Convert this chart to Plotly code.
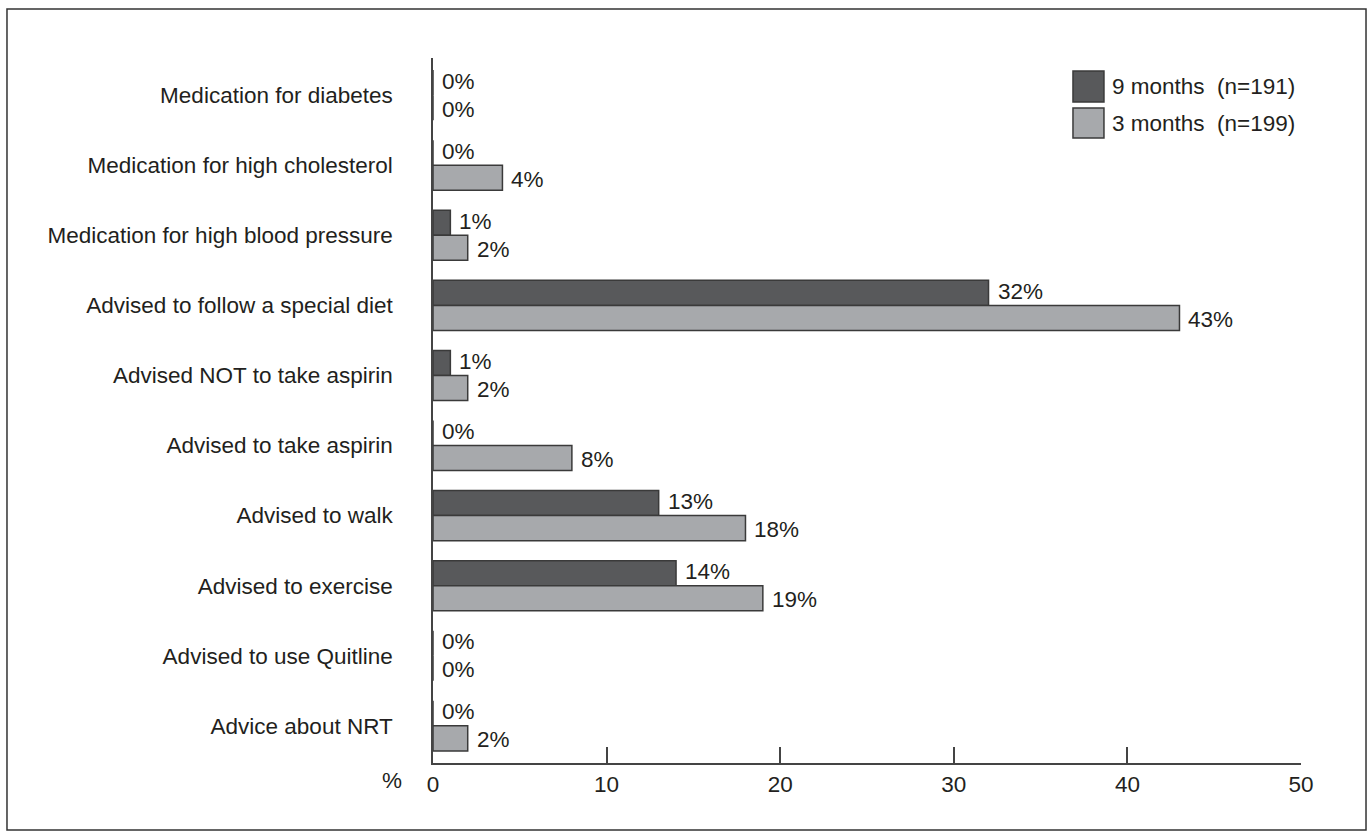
import plotly.graph_objects as go

categories = [
    "Medication for diabetes",
    "Medication for high cholesterol",
    "Medication for high blood pressure",
    "Advised to follow a special diet",
    "Advised NOT to take aspirin",
    "Advised to take aspirin",
    "Advised to walk",
    "Advised to exercise",
    "Advised to use Quitline",
    "Advice about NRT",
]
months9 = [0, 0, 1, 32, 1, 0, 13, 14, 0, 0]
months3 = [0, 4, 2, 43, 2, 8, 18, 19, 0, 2]
series_names = ["9 months  (n=191)", "3 months  (n=199)"]
x_ticks = [0, 10, 20, 30, 40, 50]

DARK = "#58595b"
LIGHT = "#a7a9ac"
EDGE = "#3a3a3a"
TXT = "#231f20"
FONT = "Liberation Sans, Arial, sans-serif"
FS = 22.5

fig = go.Figure()
for name, vals, col in [(series_names[0], months9, DARK), (series_names[1], months3, LIGHT)]:
    fig.add_trace(go.Bar(
        y=categories, x=vals, orientation="h", name=name,
        marker=dict(color=col, line=dict(color=EDGE, width=1.5)),
        showlegend=False,
    ))

annotations = []
for vals, shift in [(months9, 14), (months3, -14)]:
    for c, v in zip(categories, vals):
        annotations.append(dict(
            x=v, y=c, xref="x", yref="y", text=f"{v}%", showarrow=False,
            xanchor="left", yanchor="middle", xshift=7, yshift=shift,
            font=dict(family=FONT, size=FS, color=TXT),
        ))

# axis title "%"
annotations.append(dict(x=-0.047, y=-0.025, xref="paper", yref="paper", text="%",
                        showarrow=False, xanchor="center", yanchor="middle",
                        font=dict(family=FONT, size=FS, color=TXT)))

# manual legend
shapes = []
leg = [(series_names[0], DARK, 0.9816, 0.9376), (series_names[1], LIGHT, 0.929, 0.8865)]
for name, col, y1, y0 in leg:
    shapes.append(dict(type="rect", xref="paper", yref="paper", x0=0.7373, x1=0.773,
                       y0=y0, y1=y1, fillcolor=col, line=dict(color=EDGE, width=1.5)))
    annotations.append(dict(x=0.780, y=(y0 + y1) / 2, xref="paper", yref="paper", text=name,
                            showarrow=False, xanchor="left", yanchor="middle",
                            font=dict(family=FONT, size=FS, color=TXT)))

# outer frame
shapes.append(dict(type="rect", xref="paper", yref="paper", x0=-0.4908, x1=1.0749,
                   y0=-0.095, y1=1.0695, line=dict(color="#333333", width=1.5),
                   fillcolor="rgba(0,0,0,0)", layer="below"))

fig.update_layout(
    width=1372, height=837,
    margin=dict(l=433, r=71, t=58, b=74),
    paper_bgcolor="white", plot_bgcolor="white",
    barmode="group", bargap=0.286, bargroupgap=0,
    font=dict(family=FONT, size=FS, color=TXT),
    xaxis=dict(range=[0, 50], tickvals=x_ticks, ticks="inside", ticklen=16,
               tickwidth=1.5, tickcolor="#444444", showline=True, linecolor="#444444",
               linewidth=1.5, showgrid=False, zeroline=False,
               tickfont=dict(family=FONT, size=FS, color=TXT)),
    yaxis=dict(type="category", categoryorder="array", categoryarray=categories,
               range=[9.53, -0.53], showline=True, linecolor="#444444", linewidth=1.5,
               ticks="", showgrid=False, zeroline=False, ticklabelstandoff=34,
               tickfont=dict(family=FONT, size=FS, color=TXT)),
    annotations=annotations, shapes=shapes,
)

fig.write_html("out.html")
